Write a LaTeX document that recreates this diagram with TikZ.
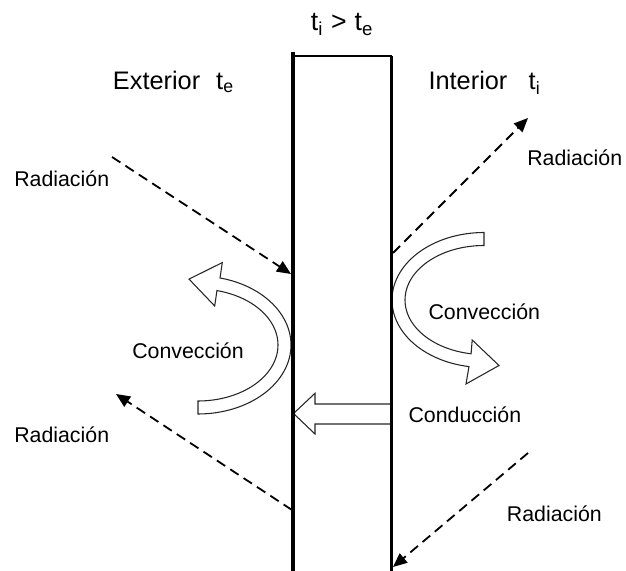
\documentclass[tikz,border=0pt]{standalone}
\usepackage{fontspec}
\setmainfont{Liberation Sans}
\usetikzlibrary{arrows.meta}
\begin{document}
\begin{tikzpicture}[x=0.75pt,y=-0.75pt,
  lbl/.style={inner sep=0pt, anchor=base west, font=\fontsize{16}{19}\selectfont},
  biglbl/.style={inner sep=0pt, anchor=base west, font=\fontsize{19}{23}\selectfont},
  rad/.style={line width=1.35pt, dash pattern=on 7.5pt off 4.5pt, -{Triangle[length=10.5pt,width=9pt]}},
  hollow/.style={draw=black!85, line width=0.8pt, fill=white, line join=miter},
  wallL/.style={line width=3.6pt},
  wallR/.style={line width=2.6pt},
  walltop/.style={line width=1pt}
]
\useasboundingbox (0,0) rectangle (626,571);

% hollow convection arrows
\draw[hollow] plot[domain=90:-76.3, samples=60] ({198+93*cos(\x)},{345+69*sin(\x)})
  -- (222.3,262.6) -- (189,279.1) -- (214.7,306)
  -- plot[domain=-76.3:90, samples=60] ({198+80*cos(\x)},{345+56*sin(\x)}) -- cycle;
\draw[hollow] plot[domain=270:99.4, samples=60] ({484+92*cos(\x)},{300+67.5*sin(\x)})
  -- (466,384) -- (499,365.5) -- (472.2,340)
  -- plot[domain=99.4:270, samples=60] ({484+79*cos(\x)},{300+54.5*sin(\x)}) -- cycle;

% conduction arrow
\draw[hollow] (391,404) -- (315,404) -- (315,393.3) -- (293.5,413.5) -- (315,434) -- (315,424) -- (391,424);

% wall
\coordinate (wlt) at (293,51.7);
\coordinate (wlb) at (293,571);
\coordinate (wrt) at (391.5,56);
\coordinate (wrb) at (391.5,571);
\coordinate (wtl) at (293,56);
\draw[wallL] (wlt) -- (wlb);
\draw[wallR] (wrt) -- (wrb);
\draw[walltop] (wtl) -- (wrt);

% radiation arrows
\coordinate (r1a) at (112,157); \coordinate (r1b) at (291,274);
\coordinate (r2a) at (393,253); \coordinate (r2b) at (528,118);
\coordinate (r3a) at (292,510); \coordinate (r3b) at (116,394);
\coordinate (r4a) at (528,453); \coordinate (r4b) at (393,567);
\draw[rad] (r1a) -- (r1b);
\draw[rad] (r2a) -- (r2b);
\draw[rad] (r3a) -- (r3b);
\draw[rad] (r4a) -- (r4b);

% labels
\node[biglbl, anchor=base, font=\fontsize{20}{24}\selectfont] (title) at (342,31) {t\textsubscript{i}\hspace{0.3em}>\hspace{0.3em}t\textsubscript{e}};
\node[biglbl] (ext) at (112.7,89.3) {Exterior\hspace{12pt}t\textsubscript{e}};
\node[biglbl] (int) at (428.3,89.3) {Interior\hspace{16pt}t\textsubscript{i}};
\node[lbl] (radtl) at (14,186) {Radiación};
\node[lbl] (radtr) at (527,165) {Radiación};
\node[lbl] (radbl) at (14,442) {Radiación};
\node[lbl] (radbr) at (506.7,521) {Radiación};
\node[lbl] (convl) at (132,358.3) {Convección};
\node[lbl] (convr) at (428.3,319.3) {Convección};
\node[lbl] (cond) at (408.3,422.7) {Conducción};
\end{tikzpicture}
\end{document}
